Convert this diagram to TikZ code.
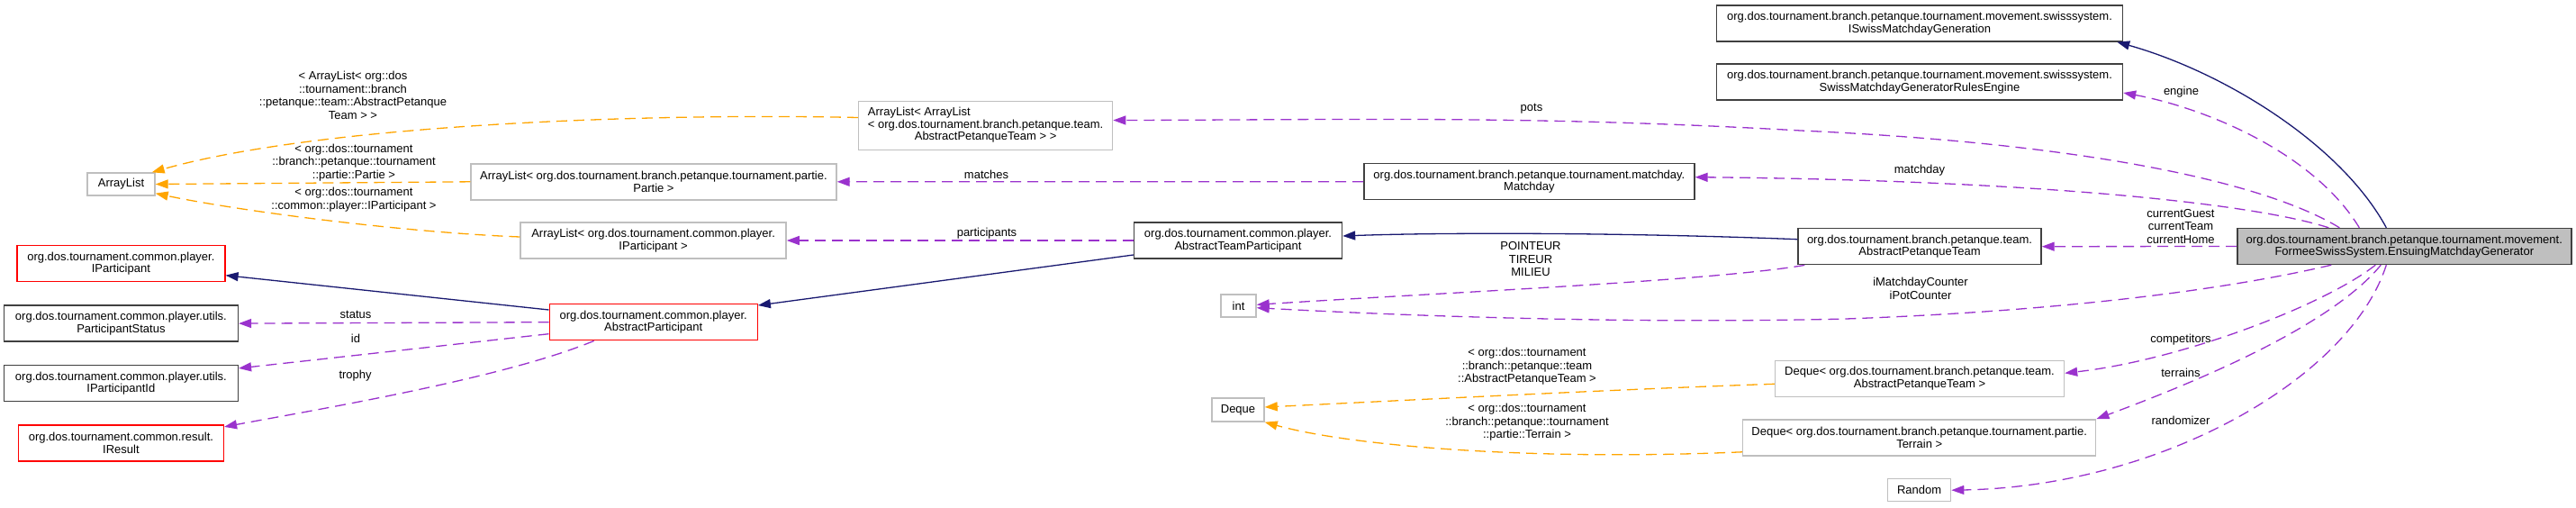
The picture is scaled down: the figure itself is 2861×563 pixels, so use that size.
\documentclass[tikz,border=0pt]{standalone}
\usepackage{fontspec}
\setmainfont{Liberation Sans}
\usetikzlibrary{arrows.meta,positioning}
\definecolor{navyedge}{HTML}{191970}
\definecolor{useedge}{HTML}{9A32CD}
\definecolor{tmpledge}{HTML}{FFA500}
\definecolor{extgrey}{HTML}{BFBFBF}
\definecolor{docline}{HTML}{404040}
\newcommand\clsfont{\fontsize{13}{13.5}\selectfont}
\newcommand\lblfont{\fontsize{13}{14.5}\selectfont}
\tikzset{
  cls/.style={draw, line width=1.4pt, minimum height=40pt, inner sep=2pt, align=center, font=\clsfont},
  doc/.style={cls, draw=docline},
  undoc/.style={cls, draw=red},
  ext/.style={cls, draw=extgrey},
  focus/.style={cls, draw=docline, fill=extgrey},
  lbl/.style={inner sep=0pt, align=center, font=\lblfont},
  inherit/.style={-{Triangle[length=14pt,width=10pt]}, line width=1.3pt, color=navyedge},
  usage/.style={-{Triangle[length=14pt,width=10pt]}, line width=1.3pt, color=useedge, dash pattern=on 12pt off 7pt},
  templ/.style={-{Triangle[length=14pt,width=10pt]}, line width=1.3pt, color=tmpledge, dash pattern=on 12pt off 7pt}
}

\begin{document}
\begin{tikzpicture}[x=1pt, y=-1pt, node distance=25pt]
  \useasboundingbox (0,0) rectangle (2861,563);

  \node[focus, minimum width=371pt] (gen) at (2670.3,273.5) {org.dos.tournament.branch.petanque.tournament.movement.\\FormeeSwissSystem.EnsuingMatchdayGenerator};
  \node[doc, minimum width=451pt] (iswiss) at (2132,25.9) {org.dos.tournament.branch.petanque.tournament.movement.swisssystem.\\ISwissMatchdayGeneration};
  \node[doc, minimum width=451pt] (rules) at (2132,91) {org.dos.tournament.branch.petanque.tournament.movement.swisssystem.\\SwissMatchdayGeneratorRulesEngine};
  \node[ext, minimum width=282pt, minimum height=54pt] (alal) at (1094.6,139.5) {\begin{tabular}{@{}l@{}}ArrayList< ArrayList\\< org.dos.tournament.branch.petanque.team.\\\multicolumn{1}{@{}c@{}}{AbstractPetanqueTeam > >}\end{tabular}};
  \node[ext, minimum width=75pt, minimum height=25pt] (arraylist) at (134.5,204.5) {ArrayList};
  \node[ext, minimum width=406pt] (alpartie) at (726,201.8) {ArrayList< org.dos.tournament.branch.petanque.tournament.partie.\\Partie >};
  \node[doc, minimum width=367pt] (matchday) at (1698.4,201.7) {org.dos.tournament.branch.petanque.tournament.matchday.\\Matchday};
  \node[ext, minimum width=295pt] (alip) at (725.6,267) {ArrayList< org.dos.tournament.common.player.\\IParticipant >};
  \node[doc, minimum width=231pt] (atp) at (1375,267) {org.dos.tournament.common.player.\\AbstractTeamParticipant};
  \node[doc, minimum width=270pt] (apt) at (2132,273.7) {org.dos.tournament.branch.petanque.team.\\AbstractPetanqueTeam};
  \node[undoc, minimum width=231pt] (ip) at (134.4,292.7) {org.dos.tournament.common.player.\\IParticipant};
  \node[doc, minimum width=260pt, below=of ip] (pstatus) {org.dos.tournament.common.player.utils.\\ParticipantStatus};
  \node[doc, minimum width=260pt, below=of pstatus] (pid) {org.dos.tournament.common.player.utils.\\IParticipantId};
  \node[undoc, minimum width=228pt, below=of pid] (result) {org.dos.tournament.common.result.\\IResult};
  \node[undoc, minimum width=231pt] (ap) at (725.7,357.7) {org.dos.tournament.common.player.\\AbstractParticipant};
  \node[ext, minimum width=39pt, minimum height=25pt] (intnode) at (1375.5,339.5) {int};
  \node[ext, minimum width=58pt, minimum height=26pt] (deque) at (1375,455) {Deque};
  \node[ext, minimum width=321pt] (dqapt) at (2132,420.3) {Deque< org.dos.tournament.branch.petanque.team.\\AbstractPetanqueTeam >};
  \node[ext, minimum width=392pt] (dqterrain) at (2131.7,485.8) {Deque< org.dos.tournament.branch.petanque.tournament.partie.\\Terrain >};
  \node[ext, minimum width=70pt, minimum height=25pt] (random) at (2131.6,544.2) {Random};

  \node[lbl] (lblpots) at (1701,121) {pots};
  \node[lbl] (lblengine) at (2422.5,101.7) {engine};
  \node[lbl] (lblmatchday) at (2132,189) {matchday};
  \node[lbl] (lblcurrent) at (2422,251.5) {currentGuest\\currentTeam\\currentHome};
  \node[lbl] (lblposte) at (1700,288) {POINTEUR\\TIREUR\\MILIEU};
  \node[lbl] (lblcounter) at (2133,320.5) {iMatchdayCounter\\iPotCounter};
  \node[lbl] (lblcomp) at (2422,376.7) {competitors};
  \node[lbl] (lblterr) at (2422,414) {terrains};
  \node[lbl] (lblrand) at (2422,466.7) {randomizer};
  \node[lbl] (lblmatches) at (1095.5,194) {matches};
  \node[lbl] (lblpart) at (1096,259) {participants};
  \node[lbl] (lblstatus) at (395,349.3) {status};
  \node[lbl] (lblid) at (395,376) {id};
  \node[lbl] (lbltrophy) at (394.6,416.7) {trophy};
  \node[lbl] (lblalal) at (392,106) {< ArrayList< org::dos\\::tournament::branch\\::petanque::team::AbstractPetanque\\Team > >};
  \node[lbl] (lblpartie) at (393,180.5) {< org::dos::tournament\\::branch::petanque::tournament\\::partie::Partie >};
  \node[lbl] (lblalip) at (393,221.5) {< org::dos::tournament\\::common::player::IParticipant >};
  \node[lbl] (lbldqapt) at (1696,407) {< org::dos::tournament\\::branch::petanque::team\\::AbstractPetanqueTeam >};
  \node[lbl] (lbldqterr) at (1696,469) {< org::dos::tournament\\::branch::petanque::tournament\\::partie::Terrain >};

  \draw[inherit] ([xshift=-20pt]gen.north) .. controls (2600,160) and (2470,80) .. ([xshift=-7pt]iswiss.south east);
  \draw[usage] ([xshift=-50pt]gen.north) .. controls (2570,170) and (2450,120) .. ([yshift=-12pt]rules.east);
  \draw[usage] ([xshift=-72pt]gen.north) .. controls (2520,205) and (2330,160) .. (2000,145) .. controls (1700,128) and (1500,133) .. ([yshift=6pt]alal.east);
  \draw[usage] ([xshift=-84pt]gen.north) .. controls (2500,225) and (2250,200) .. ([yshift=5pt]matchday.east);
  \draw[usage] (gen.west) -- (apt.east);
  \draw[usage] ([xshift=-81pt]gen.south) .. controls (2480,320) and (2300,345) .. (2050,354) .. controls (1800,360) and (1550,350) .. ([yshift=-2.2pt]intnode.east);
  \draw[usage] ([xshift=-32pt]gen.south) .. controls (2580,340) and (2420,400) .. ([yshift=6pt]dqapt.east);
  \draw[usage] ([xshift=-26pt]gen.south) .. controls (2590,360) and (2450,420) .. (dqterrain.north east);
  \draw[usage] ([xshift=-20pt]gen.south) .. controls (2610,420) and (2400,540) .. (random.east);
  \draw[inherit] ([yshift=8pt]apt.west) .. controls (1800,258) and (1600,258) .. ([yshift=5pt]atp.east);
  \draw[usage] ([xshift=8pt]apt.south west) .. controls (1900,312) and (1600,325) .. ([yshift=1.2pt]intnode.east);
  \draw[usage] (matchday.west) -- (alpartie.east);
  \draw[usage] (atp.west) -- (alip.east);
  \draw[inherit] ([yshift=-16pt]atp.west) -- ([yshift=-2pt]ap.north east);
  \draw[inherit] ([yshift=-7pt]ap.north west) -- ([yshift=-13pt]ip.east);
  \draw[usage] (ap.west) -- (pstatus.east);
  \draw[usage] ([yshift=-13pt]ap.west) -- ([yshift=16.6pt]pid.east);
  \draw[usage] ([xshift=-66pt]ap.south) .. controls (560,420) and (350,455) .. ([yshift=18pt]result.east);
  \draw[templ] ([yshift=9pt]alal.west) .. controls (700,125) and (350,140) .. ([xshift=-4pt]arraylist.north east);
  \draw[templ] (alpartie.west) -- (arraylist.east);
  \draw[templ] ([yshift=4pt]alip.west) .. controls (450,258) and (270,235) .. ([yshift=3pt]arraylist.south east);
  \draw[templ] ([yshift=-6pt]dqapt.west) .. controls (1800,432) and (1550,445) .. ([yshift=3pt]deque.east);
  \draw[templ] ([yshift=-16pt]dqterrain.west) .. controls (1700,512) and (1500,495) .. (deque.south east);
\end{tikzpicture}
\end{document}
